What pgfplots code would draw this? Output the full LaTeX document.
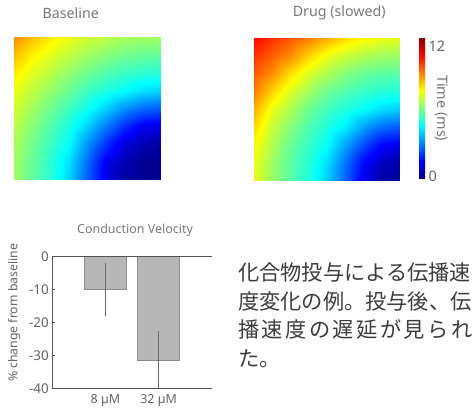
\documentclass[border=0pt]{standalone}
\usepackage{pgfplots}
\pgfplotsset{compat=1.18}
\usepackage{pgfplotstable}
\usepackage{fontspec}
\setmainfont{Noto Sans}
\newfontfamily\cjk{Noto Sans CJK JP}
\definecolor{titlegray}{RGB}{120,120,120}
\definecolor{tickgray}{RGB}{100,100,100}
\definecolor{axisgray}{RGB}{85,85,85}
\definecolor{barfill}{RGB}{183,183,183}
\definecolor{baredge}{RGB}{140,140,140}
\definecolor{errgray}{RGB}{105,105,105}
\definecolor{jptext}{RGB}{60,60,60}

\pgfplotstableread{
x y base drug
0 0 6.67 7.58
0.125 0 5.90 6.60
0.25 0 5.13 5.74
0.375 0 4.10 5.05
0.5 0 2.59 4.04
0.625 0 1.05 2.53
0.75 0 0.20 1.15
0.875 0 0 0.19
1 0 0 0
0 0.125 6.71 7.67
0.125 0.125 5.96 6.67
0.25 0.125 5.20 5.79
0.375 0.125 4.25 5.12
0.5 0.125 2.77 4.22
0.625 0.125 1.20 2.77
0.75 0.125 0.40 1.38
0.875 0.125 0 0.59
1 0.125 0 0.19
0 0.25 6.84 7.93
0.125 0.25 6.12 6.87
0.25 0.25 5.38 5.96
0.375 0.25 4.66 5.31
0.5 0.25 3.30 4.69
0.625 0.25 1.99 3.44
0.75 0.25 0.95 2.27
0.875 0.25 0.40 1.38
1 0.25 0.20 1.15
0 0.375 7.05 8.36
0.125 0.375 6.37 7.20
0.25 0.375 5.68 6.31
0.375 0.375 5.00 5.62
0.5 0.375 4.10 5.05
0.625 0.375 2.95 4.40
0.75 0.375 1.99 3.44
0.875 0.375 1.20 2.77
1 0.375 1.05 2.53
0 0.5 7.34 8.94
0.125 0.5 6.71 7.67
0.25 0.5 6.06 6.81
0.375 0.5 5.44 6.01
0.5 0.5 4.87 5.50
0.625 0.5 4.10 5.05
0.75 0.5 3.30 4.69
0.875 0.5 2.77 4.22
1 0.5 2.59 4.04
0 0.625 7.68 9.60
0.125 0.625 7.09 8.45
0.25 0.625 6.52 7.39
0.375 0.625 5.96 6.67
0.5 0.625 5.44 6.01
0.625 0.625 5.00 5.62
0.75 0.625 4.66 5.31
0.875 0.625 4.25 5.12
1 0.625 4.10 5.05
0 0.75 8.14 10.05
0.125 0.75 7.53 9.34
0.25 0.75 7.01 8.28
0.375 0.75 6.52 7.39
0.5 0.75 6.06 6.81
0.625 0.75 5.68 6.31
0.75 0.75 5.38 5.96
0.875 0.75 5.20 5.79
1 0.75 5.13 5.74
0 0.875 8.75 10.55
0.125 0.875 8.04 9.97
0.25 0.875 7.53 9.34
0.375 0.875 7.09 8.45
0.5 0.875 6.71 7.67
0.625 0.875 6.37 7.20
0.75 0.875 6.12 6.87
0.875 0.875 5.96 6.67
1 0.875 5.90 6.60
0 1 9.41 11.10
0.125 1 8.75 10.55
0.25 1 8.14 10.05
0.375 1 7.68 9.60
0.5 1 7.34 8.94
0.625 1 7.05 8.36
0.75 1 6.84 7.93
0.875 1 6.71 7.67
1 1 6.67 7.58
}\maps

\begin{document}
\begin{tikzpicture}
\useasboundingbox (0,0) rectangle (475bp,409bp);

% Baseline activation map
\begin{axis}[
  at={(14bp,229bp)}, anchor=south west,
  width=147bp, height=143bp, scale only axis,
  view={0}{90}, hide axis,
  xmin=0, xmax=1, ymin=0, ymax=1,
  colormap/jet, point meta min=-0.25, point meta max=12.8,
  title={Baseline},
  title style={at={(axis description cs:0.386,1)}, anchor=center, yshift=18bp,
    font=\fontsize{14.3}{16}\selectfont, text=titlegray},
]
\addplot3[surf, shader=interp, mesh/cols=9] table[x=x, y=y, z=base] {\maps};
\end{axis}

% Drug activation map with colorbar
\begin{axis}[
  at={(254bp,228bp)}, anchor=south west,
  width=146.5bp, height=143bp, scale only axis,
  view={0}{90}, hide axis,
  xmin=0, xmax=1, ymin=0, ymax=1,
  colormap/jet, point meta min=-0.25, point meta max=12.8,
  title={Drug (slowed)},
  title style={at={(axis description cs:0.582,1)}, anchor=center, yshift=19bp,
    font=\fontsize{14.3}{16}\selectfont, text=titlegray},
  colorbar right,
  colorbar style={
    at={(parent axis.north east)}, anchor=north west,
    xshift=10.2bp, yshift=0.7bp,
    width=6bp, height=141.7bp, scale only axis,
    ytick={0,12}, yticklabels={0,12},
    major tick length=0pt,
    axis line style={draw=none},
    yticklabel style={font=\fontsize{14.5}{16}\selectfont, text=tickgray},
    ylabel={Time (ms)},
    ylabel style={at={(axis description cs:3.7,0.5)}, anchor=center, rotate=180,
      font=\fontsize{14.5}{16}\selectfont, text=titlegray},
  },
]
\addplot3[surf, shader=interp, mesh/cols=9] table[x=x, y=y, z=drug] {\maps};
\end{axis}

% Conduction velocity bar chart
\begin{axis}[
  at={(52.3bp,20.5bp)}, anchor=south west,
  width=159.4bp, height=131.8bp, scale only axis,
  xmin=0, xmax=3, ymin=-40, ymax=0,
  axis x line*=box, axis y line*=left,
  axis line style={draw=axisgray, line width=1.1bp},
  axis on top,
  xtick={1,2}, xticklabels={8 µM, 32 µM},
  x tick style={draw=none},
  ytick={-40,-30,-20,-10,0}, yticklabels={-40,-30,-20,-10,0},
  y tick style={draw=axisgray, line width=0.8bp},
  tick align=inside, major tick length=2.5bp,
  tick label style={font=\fontsize{13.5}{15}\selectfont, text=tickgray},
  xticklabel style={font=\fontsize{12.5}{14}\selectfont, yshift=-2bp},
  title={Conduction Velocity},
  title style={at={(axis description cs:0.519,1)}, anchor=center, yshift=20bp,
    font=\fontsize{12.5}{14}\selectfont, text=titlegray},
  ylabel={\% change from baseline},
  ylabel style={at={(axis description cs:-0.24,0.573)}, anchor=center,
    font=\fontsize{12.3}{14}\selectfont, text=tickgray},
]
\addplot[ybar, bar width=0.8, fill=barfill, draw=baredge, line width=0.8bp,
  error bars/.cd, y dir=both, y explicit, error mark=none,
  error bar style={draw=errgray, line width=1bp}]
  coordinates {(1,-10) +- (0,8) (2,-31.5) +- (0,9)};
\end{axis}

% Japanese caption
\node[anchor=base west, inner sep=0, text=jptext, font=\cjk\fontsize{21.3}{28.5}\selectfont]
  at (238bp,128bp) {化合物投与による伝播速};
\node[anchor=base west, inner sep=0, text=jptext, font=\cjk\fontsize{21.3}{28.5}\selectfont]
  at (238bp,99.5bp) {度変化の例。投与後、伝};
\node[anchor=base west, inner sep=0, text=jptext, font=\cjk\fontsize{21.3}{28.5}\selectfont]
  at (238bp,71bp) {\makebox[234.3bp][s]{播\hfil 速\hfil 度\hfil の\hfil 遅\hfil 延\hfil が\hfil 見\hfil ら\hfil れ}};
\node[anchor=base west, inner sep=0, text=jptext, font=\cjk\fontsize{21.3}{28.5}\selectfont]
  at (238bp,42.5bp) {た。};
\end{tikzpicture}
\end{document}
